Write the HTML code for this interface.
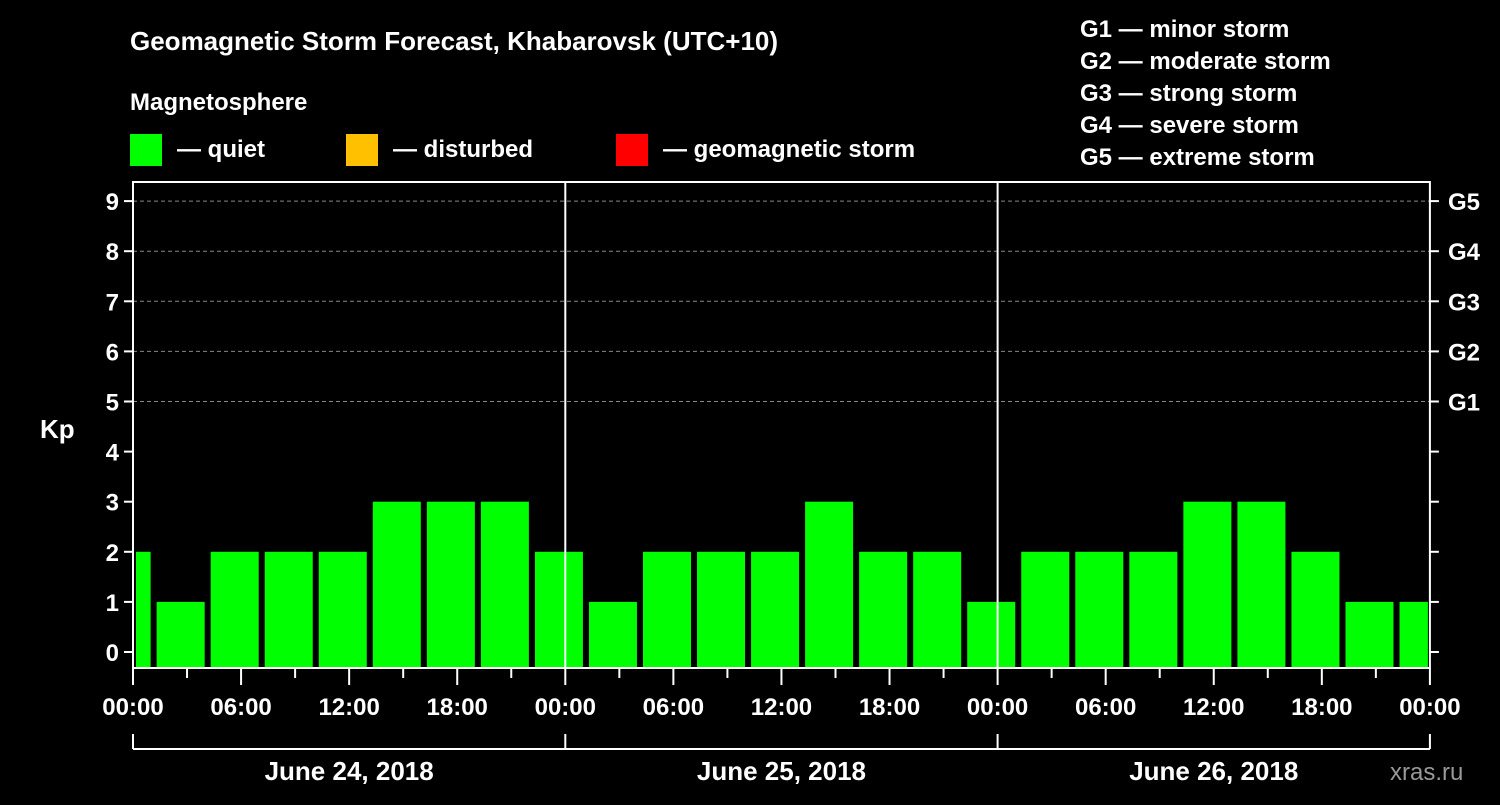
<!DOCTYPE html>
<html><head><meta charset="utf-8"><style>
body{margin:0;background:#000;}
svg text{font-family:"Liberation Sans",Arial,sans-serif;font-weight:bold;fill:#fff;}
</style></head><body>
<svg width="1500" height="800" xmlns="http://www.w3.org/2000/svg">
<rect width="1500" height="800" fill="#000"/>
<text x="130" y="50" font-size="26">Geomagnetic Storm Forecast, Khabarovsk (UTC+10)</text>
<text x="130" y="110" font-size="24">Magnetosphere</text>
<g><rect x="130" y="134" width="32" height="32" fill="#00ff00"/><text x="177" y="157" font-size="24">— quiet</text></g>
<g><rect x="346" y="134" width="32" height="32" fill="#ffc000"/><text x="393" y="157" font-size="24">— disturbed</text></g>
<g><rect x="616" y="134" width="32" height="32" fill="#ff0000"/><text x="663" y="157" font-size="24">— geomagnetic storm</text></g>
<g font-size="24">
<text x="1080" y="37">G1 — minor storm</text>
<text x="1080" y="69">G2 — moderate storm</text>
<text x="1080" y="101">G3 — strong storm</text>
<text x="1080" y="133">G4 — severe storm</text>
<text x="1080" y="165">G5 — extreme storm</text>
</g>
<text x="40" y="438" font-size="26">Kp</text>
<text x="1390" y="780" font-size="24" fill="#888" style="fill:#999;font-weight:normal">xras.ru</text>
<g id="bars"></g><g id="axes"></g>
</svg>
<script>
const kpValues=[2,1,2,2,2,3,3,3,2,1,2,2,2,3,2,2,1,2,2,2,3,3,2,1,1];
const yTicks=[0,1,2,3,4,5,6,7,8,9];
const gLabels=["G1","G2","G3","G4","G5"];
const hourLabels=["00:00","06:00","12:00","18:00"];
const dayLabels=["June 24, 2018","June 25, 2018","June 26, 2018"];
const NS="http://www.w3.org/2000/svg";
const X0=133,DAY=432.3,TOP=182,BOT=668;
const xh=h=>X0+h*DAY/24;
const yk=k=>652-50.1*k;
function mk(t,a,p){const e=document.createElementNS(NS,t);for(const k in a)e.setAttribute(k,a[k]);(p||document.getElementById('axes')).appendChild(e);return e;}
const bars=document.getElementById('bars');
kpValues.forEach((v,i)=>{
  let x1=xh(-1.72+3*i)+0.6,x2=x1+48;
  x1=Math.max(x1,X0+3);x2=Math.min(x2,xh(72)-2);
  const c=v>=5?'#ff0000':(v>=4?'#ffc000':'#00ff00');
  const r=mk('rect',{x:x1,y:yk(v),width:x2-x1,height:BOT-yk(v),fill:c},bars);
  
  
});
yTicks.forEach(k=>{
  const y=yk(k);
  if(k>=5) mk('line',{x1:X0,x2:xh(72),y1:y,y2:y,stroke:'#888','stroke-dasharray':'4,3','stroke-width':1});
  mk('line',{x1:X0-9,x2:X0,y1:y,y2:y,stroke:'#fff','stroke-width':2});
  mk('line',{x1:xh(72),x2:xh(72)+9,y1:y,y2:y,stroke:'#fff','stroke-width':2});
  const t=mk('text',{x:X0-14,y:y+9,'font-size':24,'text-anchor':'end'});t.textContent=k;
  
  
});
gLabels.forEach((g,i)=>{const t=mk('text',{x:1448,y:yk(5+i)+9,'font-size':24});t.textContent=g;
  
  });
mk('rect',{x:X0,y:TOP,width:xh(72)-X0,height:BOT-TOP,fill:'none',stroke:'#fff','stroke-width':2});
[1,2].forEach(d=>mk('line',{x1:xh(24*d),x2:xh(24*d),y1:TOP,y2:BOT,stroke:'#fff','stroke-width':2}));
for(let h=0;h<=72;h+=3){
  const maj=h%6===0;
  mk('line',{x1:xh(h),x2:xh(h),y1:BOT,y2:BOT+(maj?17:10),stroke:'#fff','stroke-width':2});
  if(maj){const t=mk('text',{x:xh(h),y:715,'font-size':24,'text-anchor':'middle'});t.textContent=hourLabels[(h/6)%4];
    
    }
}
mk('line',{x1:X0,x2:xh(72),y1:749,y2:749,stroke:'#fff','stroke-width':2});
for(let d=0;d<=3;d++) mk('line',{x1:xh(24*d),x2:xh(24*d),y1:734,y2:749,stroke:'#fff','stroke-width':2});
dayLabels.forEach((s,d)=>{const t=mk('text',{x:xh(24*d+12),y:780,'font-size':26,'text-anchor':'middle'});t.textContent=s;
  
  });
</script>
</body></html>
